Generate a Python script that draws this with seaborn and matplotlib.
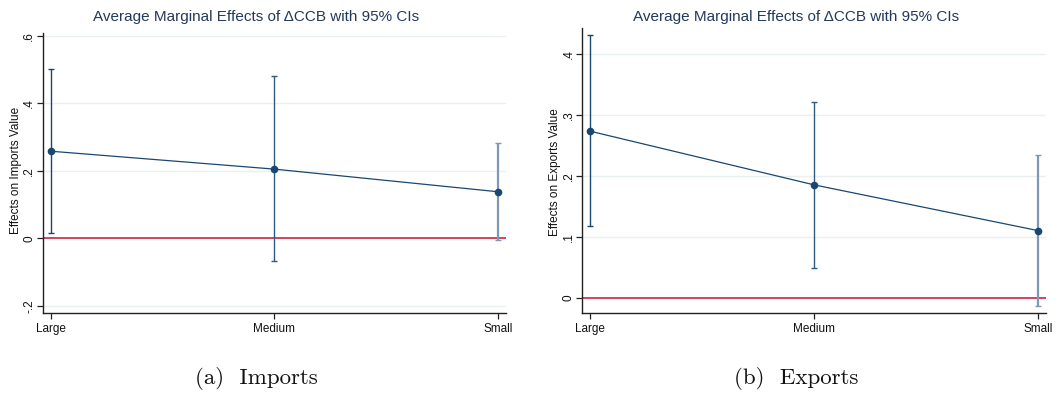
import numpy as np
import pandas as pd
import matplotlib
matplotlib.use("Agg")
import matplotlib.pyplot as plt
import seaborn as sns

# Firm-size groups on the x axis
categories = ["Large", "Medium", "Small"]

# Imports: average marginal effects and 95% CI bounds
imp_est = [0.258, 0.205, 0.138]
imp_lo = [0.017, -0.068, -0.005]
imp_hi = [0.501, 0.480, 0.283]

# Exports: average marginal effects and 95% CI bounds
exp_est = [0.273, 0.185, 0.110]
exp_lo = [0.117, 0.049, -0.013]
exp_hi = [0.430, 0.321, 0.234]

imp_ticks = [-0.2, 0.0, 0.2, 0.4, 0.6]
imp_ticklabels = ["-.2", "0", ".2", ".4", ".6"]
exp_ticks = [0.0, 0.1, 0.2, 0.3, 0.4]
exp_ticklabels = ["0", ".1", ".2", ".3", ".4"]

title_text = "Average Marginal Effects of \u0394CCB with 95% CIs"

sns.set_theme(style="white")
plt.rcParams["font.family"] = ["Liberation Sans", "DejaVu Sans"]

NAVY = "#1a476f"
CI_COLORS = [NAVY, "#2f5a80", "#7f99b4"]
CI_WIDTHS = [1.0, 1.0, 1.6]
RED = "#cc1238"
GRID = "#e9f0f1"
TITLE_COLOR = "#23395b"

fig = plt.figure(figsize=(10.59, 3.94), dpi=100)
ax1 = fig.add_axes([0.0406, 0.2056, 0.4369, 0.7107])
ax2 = fig.add_axes([0.5499, 0.2048, 0.4376, 0.7234])


def draw_panel(ax, est, lo, hi, ticks, ticklabels, ylim, ylabel, label_xy):
    df = pd.DataFrame({"pos": np.arange(len(categories)), "est": est,
                       "lo": lo, "hi": hi})
    for tk in ticks:
        ax.axhline(tk, color=GRID, lw=1.0, zorder=0)
    ax.axhline(0, color=RED, lw=1.1, zorder=1)
    for i, row in df.iterrows():
        ax.errorbar([row["pos"]], [row["est"]],
                    yerr=[[row["est"] - row["lo"]], [row["hi"] - row["est"]]],
                    fmt="none", ecolor=CI_COLORS[i], elinewidth=CI_WIDTHS[i],
                    capsize=2.2, capthick=1.0, zorder=2)
    sns.lineplot(data=df, x="pos", y="est", ax=ax, color=NAVY, lw=0.9,
                 marker="o", markersize=5.5, markeredgewidth=0,
                 zorder=3, legend=False)
    ax.set_xlim(-0.034, 2.035)
    ax.set_ylim(*ylim)
    ax.set_xticks(df["pos"])
    ax.set_xticklabels(categories, fontsize=8.5, color="#111111")
    ax.set_yticks(ticks)
    ax.set_yticklabels(ticklabels, fontsize=8.5, rotation=90, va="center",
                       color="#111111")
    ax.set_xlabel("")
    ax.set_ylabel(ylabel, fontsize=8.5, color="#111111")
    ax.yaxis.set_label_coords(*label_xy)
    ax.yaxis.label.set_va("center")
    ax.tick_params(axis="both", which="major", direction="out", length=4,
                   width=0.9, color="#222222", bottom=True, left=True)
    ax.tick_params(axis="y", pad=1.5)
    ax.tick_params(axis="x", pad=3)
    for side in ["top", "right"]:
        ax.spines[side].set_visible(False)
    for side in ["left", "bottom"]:
        ax.spines[side].set_color("#222222")
        ax.spines[side].set_linewidth(1.0)
    ax.grid(False)


draw_panel(ax1, imp_est, imp_lo, imp_hi, imp_ticks, imp_ticklabels,
           (-0.221, 0.608), "Effects on Imports Value", (-0.059, 0.509))
draw_panel(ax2, exp_est, exp_lo, exp_hi, exp_ticks, exp_ticklabels,
           (-0.0256, 0.4416), "Effects on Exports Value", (-0.059, 0.494))

fig.text(256 / 1059, 1 - 17 / 394, title_text, ha="center", va="center",
         fontsize=11, color=TITLE_COLOR)
fig.text(796 / 1059, 1 - 17 / 394, title_text, ha="center", va="center",
         fontsize=11, color=TITLE_COLOR)

fig.text(256.5 / 1059, 1 - 379 / 394, "(a)  Imports", ha="center",
         va="center", fontsize=16.5, family="cmr10", color="#111111")
fig.text(796 / 1059, 1 - 379 / 394, "(b)  Exports", ha="center",
         va="center", fontsize=16.5, family="cmr10", color="#111111")

fig.savefig("out.png", dpi=100, facecolor="white")
